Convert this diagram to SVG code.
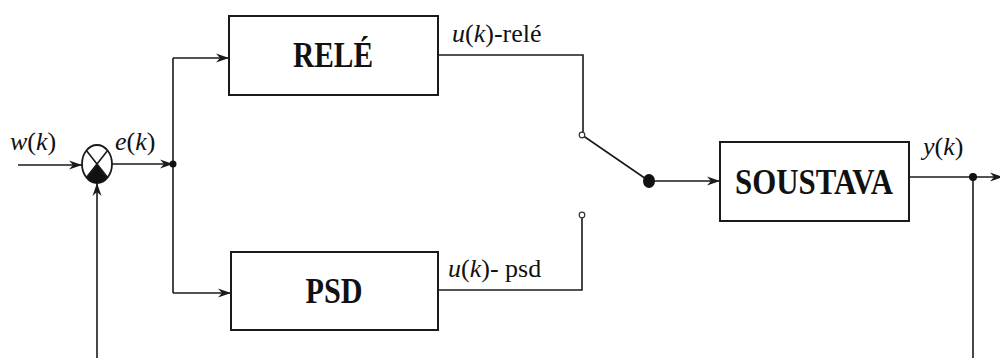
<svg xmlns="http://www.w3.org/2000/svg" width="1000" height="358" viewBox="0 0 1000 358">
  <style>
    .wire { fill: none; stroke: #1a1a1a; stroke-width: 1.6; }
    .box { fill: #ffffff; stroke: #1a1a1a; stroke-width: 2; }
    .title { font-family: "Liberation Serif", "DejaVu Serif", serif; font-weight: bold; font-size: 36px; fill: #111; text-anchor: middle; }
    .sig { font-family: "Liberation Serif", "DejaVu Serif", serif; font-size: 26px; fill: #111; }
    .it { font-style: italic; }
    .dot { fill: #111; }
    .contact { fill: #fff; stroke: #333; stroke-width: 1.2; }
  </style>
  <defs>
    <marker id="arr" markerWidth="14" markerHeight="10" refX="13" refY="5" orient="auto" markerUnits="userSpaceOnUse">
      <path d="M0,0.5 L13,5 L0,9.5 L4,5 Z" fill="#1a1a1a"/>
    </marker>
  </defs>

  <rect width="1000" height="358" fill="#ffffff"/>

  <!-- connectors -->
  <g id="connectors">
    <!-- reference input into the summing junction -->
    <path class="wire" d="M18,165 H82" marker-end="url(#arr)"/>
    <!-- feedback from the bottom into the junction -->
    <path class="wire" d="M97,358 V183" marker-end="url(#arr)"/>
    <!-- error signal to the branch point -->
    <path class="wire" d="M112,164 H173" marker-end="url(#arr)"/>
    <!-- branch to both controllers -->
    <path class="wire" d="M173,58 V293"/>
    <path class="wire" d="M173,58 H229" marker-end="url(#arr)"/>
    <path class="wire" d="M173,293 H231" marker-end="url(#arr)"/>
    <!-- controller outputs to switch contacts -->
    <path class="wire" d="M438,55 H583 V135"/>
    <path class="wire" d="M438,290 H582 V215"/>
    <!-- switch lever -->
    <path class="wire" d="M582,135 L649,181" stroke-width="2"/>
    <!-- switch to plant -->
    <path class="wire" d="M649,181 H720" marker-end="url(#arr)"/>
    <!-- plant output -->
    <path class="wire" d="M909,177 H1003" marker-end="url(#arr)"/>
    <path class="wire" d="M973,177 V358"/>
    <circle class="dot" cx="173" cy="164" r="3.5"/>
    <circle class="dot" cx="973" cy="177" r="4"/>
    <ellipse class="dot" cx="649" cy="181" rx="6" ry="7"/>
    <circle class="contact" cx="582" cy="135" r="2.8"/>
    <circle class="contact" cx="582" cy="215" r="2.8"/>
  </g>

  <!-- summing junction -->
  <g id="sum">
    <ellipse cx="97" cy="164" rx="15" ry="19" fill="#fff" stroke="#1a1a1a" stroke-width="1.8"/>
    <path d="M97,164 L107.6,177.4 A15,19 0 0 1 86.4,177.4 Z" fill="#111"/>
    <path d="M86.4,150.6 L107.6,177.4 M107.6,150.6 L86.4,177.4" stroke="#1a1a1a" stroke-width="1.6"/>
  </g>

  <g id="rele">
    <rect class="box" x="229" y="16" width="209" height="79"/>
    <text class="title" x="333" y="67" textLength="80" lengthAdjust="spacingAndGlyphs">RELÉ</text>
  </g>

  <g id="psd">
    <rect class="box" x="231" y="252" width="207" height="78"/>
    <text class="title" x="334" y="303" textLength="57" lengthAdjust="spacingAndGlyphs">PSD</text>
  </g>

  <g id="soustava">
    <rect class="box" x="720" y="142" width="189" height="79"/>
    <text class="title" x="814" y="194" textLength="158" lengthAdjust="spacingAndGlyphs">SOUSTAVA</text>
  </g>

  <!-- signal labels -->
  <g id="labels">
    <text class="sig" x="10" y="150"><tspan class="it">w</tspan>(<tspan class="it">k</tspan>)</text>
    <text class="sig" x="115" y="150"><tspan class="it">e</tspan>(<tspan class="it">k</tspan>)</text>
    <text class="sig" x="452" y="42"><tspan class="it">u</tspan>(<tspan class="it">k</tspan>)-relé</text>
    <text class="sig" x="448" y="277"><tspan class="it">u</tspan>(<tspan class="it">k</tspan>)- psd</text>
    <text class="sig" x="923" y="155"><tspan class="it">y</tspan>(<tspan class="it">k</tspan>)</text>
  </g>
</svg>
